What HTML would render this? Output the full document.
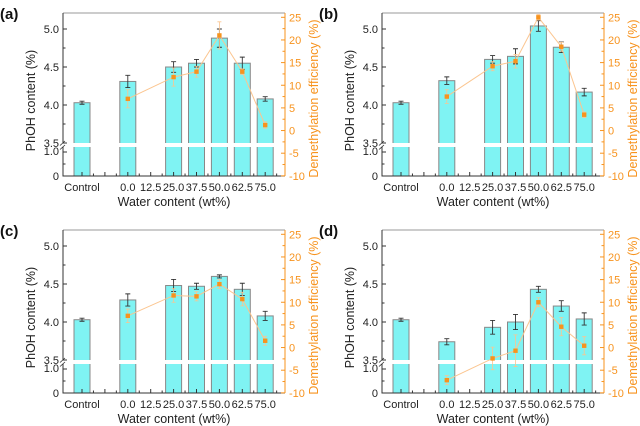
<!DOCTYPE html><html><head><style>body{margin:0;background:#fff}svg{display:block}text{font-family:"Liberation Sans",sans-serif}</style></head><body>
<svg id="s" width="640" height="426" xmlns="http://www.w3.org/2000/svg"></svg>
<script>
const P=[
{x:63,y:13,l:"(a)",b:[4.03,4.31,4.50,4.55,4.88,4.55,4.08],be:[.02,.08,.07,.05,.12,.08,.03],e:[7,11.8,13,21,13,1.2],ee:[2,2,1.2,3,0.6,0.7]},
{x:382,y:13,l:"(b)",b:[4.03,4.32,4.60,4.64,5.04,4.76,4.17],be:[.02,.05,.05,.1,.07,.07,.05],e:[7.5,14.2,15.3,25,18.5,3.5],ee:[1.5,1,1.5,0.6,1,0.6]},
{x:63,y:230,l:"(c)",b:[4.03,4.29,4.48,4.47,4.60,4.43,4.08],be:[.02,.08,.08,.04,.02,.08,.06],e:[7,11.5,11.3,14,10.7,1.5],ee:[1.5,1.5,1,1,1.5,1]},
{x:382,y:230,l:"(d)",b:[4.03,3.74,3.93,4.00,4.43,4.21,4.04],be:[.02,.04,.09,.1,.04,.07,.08],e:[-7.2,-2.4,-0.7,10,4.6,0.4],ee:[1,2.5,3.5,1,2,2]}];
let h='';const W=222,H=163,O='#f7931e';
function yv(v){return v>=3.5?130-(v-3.5)*76:163-v*24}
function ye(v){return 4.3+(25-v)*4.53}
P.forEach(p=>{
 const X=p.x,Y=p.y,cx=i=>X+19+i*22.9;
 h+=`<g transform="translate(${X},${Y})">`;
 const idx=[0,2,4,5,6,7,8];
 p.b.forEach((v,k)=>{const c=cx(idx[k])-X;const t=yv(v);
  h+=`<rect x="${c-8}" y="${t}" width="16" height="${H-t}" fill="#7ff3f3" stroke="#888" stroke-width="1"/>`;
  const a=yv(v+p.be[k]),b=yv(v-p.be[k]);
  h+=`<path d="M${c} ${a}V${b}M${c-2.5} ${a}H${c+2.5}M${c-2.5} ${b}H${c+2.5}" stroke="#333" stroke-width="0.9"/>`;});
 h+=`<rect x="0" y="130" width="${W}" height="4" fill="#fff"/>`;
 let pts=p.e.map((v,k)=>[cx(idx[k+1])-X,ye(v)]);
 h+=`<polyline points="${pts.map(q=>q.join(',')).join(' ')}" fill="none" stroke="#fbc58f" stroke-width="1"/>`;
 pts.forEach((q,k)=>{const a=ye(p.e[k]+p.ee[k]),b=ye(p.e[k]-p.ee[k]);
  h+=`<path d="M${q[0]} ${a}V${b}M${q[0]-2} ${a}H${q[0]+2}M${q[0]-2} ${b}H${q[0]+2}" stroke="#fbc58f" stroke-width="0.8"/><rect x="${q[0]-2.2}" y="${q[1]-2.2}" width="4.4" height="4.4" fill="${O}"/>`;});
 h+=`<path d="M0 0H${W}" stroke="#999" stroke-width="1"/><path d="M0 0V130M0 134V${H}H${W}" stroke="#333" stroke-width="1" fill="none"/><path d="M${W} 0V${H}" stroke="${O}" stroke-width="1"/>`;
 h+=`<path d="M-3 132.5L2 128M-3 136.5L2 132" stroke="#333" stroke-width="0.8"/>`;
 [[5,'5.0'],[4.5,'4.5'],[4,'4.0'],[3.5,'3.5']].forEach(([v,s])=>{const y=yv(v);h+=`<path d="M0 ${y}H4" stroke="#333"/><text x="-4" y="${y+4}" font-size="11" text-anchor="end" fill="#222">${s}</text>`;});
 for(let v=3.75;v<5.2;v+=0.5)h+=`<path d="M0 ${yv(v)}H2.5" stroke="#333"/>`;
 [[1,'1.0'],[0,'0']].forEach(([v,s])=>{const y=yv(v);h+=`<path d="M0 ${y}H4" stroke="#333"/><text x="-4" y="${y+(v?3:4)}" font-size="11" text-anchor="end" fill="#222">${s}</text>`;});
 h+=`<path d="M0 ${yv(0.5)}H2.5" stroke="#333"/>`;
 for(let v=-10;v<=25;v+=5){const y=ye(v);h+=`<path d="M${W} ${y}H${W-4}" stroke="${O}"/><text x="${W+4}" y="${y+4}" font-size="11" fill="${O}">${v}</text>`;
  if(v<25)h+=`<path d="M${W} ${ye(v+2.5)}H${W-2.5}" stroke="${O}"/>`;}
 const xl=['Control','','0.0','12.5','25.0','37.5','50.0','62.5','75.0'];
 for(let i=0;i<9;i++){const c=cx(i)-X;h+=`<path d="M${c} ${H}v-4" stroke="#333"/>`;if(xl[i])h+=`<text x="${c}" y="${H+15}" font-size="11" text-anchor="middle" fill="#222">${xl[i]}</text>`;
  h+=`<path d="M${c+11.45} ${H}v-2.5" stroke="#333"/>`;}
 h+=`<text x="${W/2}" y="${H+30}" font-size="12.5" text-anchor="middle" fill="#222">Water content (wt%)</text>`;
 h+=`<text transform="translate(-28,${H/2+6}) rotate(-90)" font-size="12.5" text-anchor="middle" fill="#222">PhOH content (%)</text>`;
 h+=`<text transform="translate(${W+33},${H/2+4}) rotate(-90)" font-size="12.5" text-anchor="middle" fill="${O}">Demethylation efficiency (%)</text>`;
 h+=`<text x="-63" y="6" font-size="15" font-weight="bold" fill="#111">${p.l}</text>`;
 h+='</g>';});
document.getElementById('s').innerHTML=h;
</script></body></html>
